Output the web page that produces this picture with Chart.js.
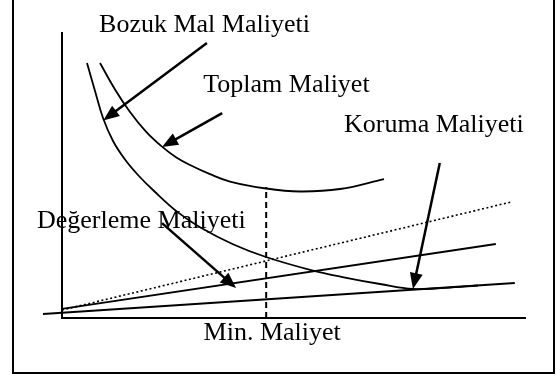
<!DOCTYPE html>
<html>
<head>
<meta charset="utf-8">
<script src="https://cdn.jsdelivr.net/npm/chart.js@4/dist/chart.umd.min.js"></script>
<style>
html, body { margin: 0; padding: 0; background: #fff; }
</style>
</head>
<body>
<canvas id="grafik" width="556" height="381"></canvas>
<script>
// eksenler 0..100 birim (x: miktar, y: maliyet)
const bozukX = [5.4, 7.13, 8.86, 11.02, 13.61, 16.41, 19.65, 25.05, 29.81, 36.93, 44.06, 53.78, 61.12, 68.68, 75.81, 82.72, 89.85];
const bozukY = [89.47, 79.65, 70.18, 62.11, 55.61, 50.18, 44.91, 37.05, 31.86, 25.89, 21.4, 16.81, 14.18, 11.93, 10.18, 10.6, 11.4];

const toplamX = [8.21, 11.45, 14.69, 18.14, 21.6, 24.62, 27.65, 31.97, 36.29, 44.06, 51.4, 60.04, 69.55];
const toplamY = [89.47, 80.18, 72.28, 65.4, 60.11, 56.42, 53.68, 50.49, 47.89, 45.44, 44.39, 45.26, 48.77];

const noktaliX = [0, 97.0];
const noktaliY = [2.8, 40.7];

const degerlemeX = [0, 93.7];
const degerlemeY = [3.2, 26.0];

const korumaX = [-4.1, 97.8];
const korumaY = [1.4, 12.3];

const minMaliyetX = 44.1;
const minMaliyetY = [0, 46.0];
const minMaliyetEtiket = "Min. Maliyet";

// etiketler ve oklar
const etiketler = ["Bozuk Mal Maliyeti", "Toplam Maliyet", "Koruma Maliyeti", "Değerleme Maliyeti"];
const etiketX = [8.0, 30.5, 60.9, -5.4];
const etiketY = [100.4, 79.3, 65.3, 31.6];

const okBasX = [31.3, 34.6, 81.6, 21.6];
const okBasY = [96.5, 71.9, 54.4, 33.3];
const okUcX = [8.9, 21.6, 75.8, 37.6];
const okUcY = [69.3, 60.0, 10.2, 10.5];

const yaziTipi = "'Liberation Serif', 'Times New Roman', serif";

function noktalar(xs, ys) {
    return xs.map((x, i) => ({ x: x, y: ys[i] }));
}

function ok(ctx, x1, y1, x2, y2) {
    const a = Math.atan2(y2 - y1, x2 - x1);
    const L = 16, W = 6.5;
    const bx = x2 - L * Math.cos(a);
    const by = y2 - L * Math.sin(a);
    ctx.beginPath();
    ctx.moveTo(x1, y1);
    ctx.lineTo(bx + Math.cos(a), by + Math.sin(a));
    ctx.stroke();
    ctx.beginPath();
    ctx.moveTo(x2, y2);
    ctx.lineTo(bx + W * Math.sin(a), by - W * Math.cos(a));
    ctx.lineTo(bx - W * Math.sin(a), by + W * Math.cos(a));
    ctx.closePath();
    ctx.fill();
}

const cerceve = {
    id: "cerceve",
    beforeDraw(chart) {
        const ctx = chart.ctx;
        ctx.save();
        ctx.fillStyle = "#fff";
        ctx.fillRect(0, 0, chart.width, chart.height);
        ctx.strokeStyle = "#000";
        ctx.lineWidth = 2;
        ctx.strokeRect(13, -5, 541, 378);
        ctx.restore();
    }
};

const notlar = {
    id: "notlar",
    afterDatasetsDraw(chart) {
        const { ctx, scales: { x, y } } = chart;
        ctx.save();
        ctx.strokeStyle = "#000";
        ctx.fillStyle = "#000";
        ctx.lineWidth = 2.5;
        okBasX.forEach((bx, i) => {
            ok(ctx, x.getPixelForValue(bx), y.getPixelForValue(okBasY[i]),
                x.getPixelForValue(okUcX[i]), y.getPixelForValue(okUcY[i]));
        });
        ctx.font = "26px " + yaziTipi;
        ctx.textAlign = "left";
        ctx.textBaseline = "alphabetic";
        etiketler.forEach((t, i) => {
            ctx.fillText(t, x.getPixelForValue(etiketX[i]), y.getPixelForValue(etiketY[i]));
        });
        ctx.restore();
    }
};

const cizgi = (veri, ek) => Object.assign({
    data: veri,
    showLine: true,
    borderColor: "#000",
    borderWidth: 2,
    pointRadius: 0,
    clip: false
}, ek);

new Chart(document.getElementById("grafik"), {
    type: "scatter",
    data: {
        datasets: [
            cizgi(noktalar(bozukX, bozukY), { borderWidth: 1.8, tension: 0.4 }),
            cizgi(noktalar(toplamX, toplamY), { borderWidth: 1.8, tension: 0.4 }),
            cizgi(noktalar(noktaliX, noktaliY), { borderWidth: 1.6, borderDash: [2, 2.5] }),
            cizgi(noktalar(degerlemeX, degerlemeY), {}),
            cizgi(noktalar(korumaX, korumaY), {}),
            cizgi(noktalar([minMaliyetX, minMaliyetX], minMaliyetY), { borderDash: [6, 4] })
        ]
    },
    options: {
        responsive: false,
        animation: false,
        layout: { padding: { left: 62, right: 31, top: 33, bottom: 0 } },
        plugins: { legend: { display: false }, tooltip: { enabled: false } },
        scales: {
            x: {
                type: "linear",
                min: 0,
                max: 100,
                grid: { display: false, drawTicks: false },
                border: { display: true, color: "#000", width: 2 },
                afterBuildTicks: s => { s.ticks = [{ value: minMaliyetX }]; },
                afterFit: s => { s.height = 63; },
                ticks: {
                    color: "#000",
                    font: { family: yaziTipi, size: 26 },
                    padding: 0,
                    labelOffset: 6,
                    maxRotation: 0,
                    autoSkip: false,
                    callback: () => minMaliyetEtiket
                }
            },
            y: {
                type: "linear",
                min: 0,
                max: 100,
                grid: { display: false, drawTicks: false },
                border: { display: true, color: "#000", width: 2 },
                ticks: { display: false },
                afterFit: s => { s.width = 0; }
            }
        }
    },
    plugins: [cerceve, notlar]
});
</script>
</body>
</html>
